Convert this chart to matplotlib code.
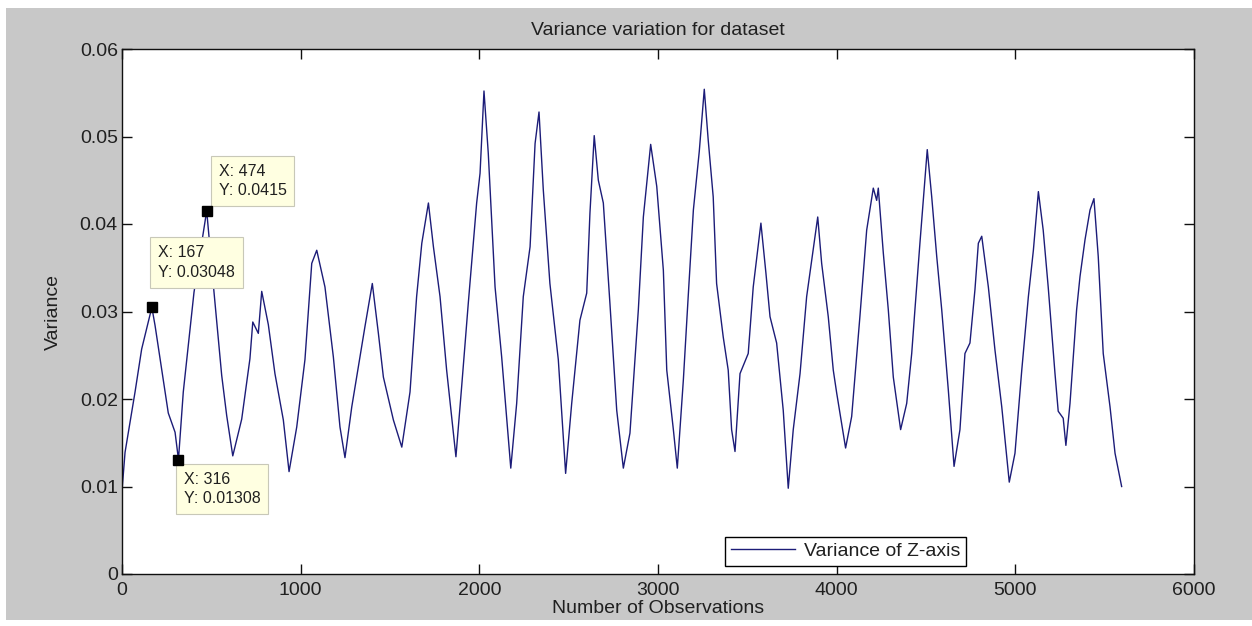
import matplotlib
matplotlib.use("Agg")
import matplotlib.pyplot as plt
from matplotlib.patches import Rectangle

# ---------------- data ----------------
observations = [
    0, 17, 73, 110, 167, 185, 259, 297, 316,
    343, 403, 474, 515, 558, 586, 620,
    670, 716, 732, 763, 782, 819, 856, 903, 935,
    978, 1024, 1062, 1090, 1136, 1183, 1220, 1248,
    1286, 1323, 1360, 1401, 1435, 1463, 1519, 1566,
    1612, 1649, 1678, 1715, 1743, 1780, 1817, 1869,
    1901, 1938, 1985, 2004, 2026, 2050, 2088, 2125, 2176,
    2209, 2246, 2284, 2312, 2334, 2358, 2395, 2442, 2483,
    2517, 2563, 2601, 2619, 2643, 2666, 2694, 2731, 2769, 2806,
    2843, 2890, 2918, 2959, 2993, 3030, 3049, 3086, 3108,
    3142, 3169, 3198, 3231, 3259, 3281, 3309, 3328, 3365, 3393, 3412, 3431,
    3459, 3505, 3533, 3576, 3604, 3627, 3664, 3701, 3729,
    3757, 3795, 3832, 3894, 3916, 3953, 3981, 4000, 4050,
    4084, 4130, 4168, 4205, 4224, 4233, 4261, 4289, 4317, 4358,
    4392, 4420, 4438, 4466, 4507, 4532, 4560, 4588, 4625, 4657,
    4690, 4718, 4746, 4774, 4793, 4812, 4849, 4886, 4924, 4966,
    4998, 5036, 5073, 5101, 5129, 5156, 5184, 5222, 5240, 5268, 5283,
    5306, 5343, 5362, 5390, 5418, 5440, 5464, 5492, 5530, 5558, 5595,
]
variance_z = [
    0.0095, 0.0139, 0.0208, 0.0257, 0.03048, 0.0284, 0.0184, 0.0162, 0.01308,
    0.0208, 0.0322, 0.0415, 0.0322, 0.0227, 0.0181, 0.0135,
    0.0177, 0.0246, 0.0288, 0.0275, 0.0323, 0.0285, 0.0229, 0.0176, 0.0117,
    0.0168, 0.0245, 0.0355, 0.0370, 0.0328, 0.0248, 0.0168, 0.0133,
    0.0191, 0.0237, 0.0283, 0.0332, 0.0275, 0.0225, 0.0176, 0.0145,
    0.0208, 0.0317, 0.0378, 0.0424, 0.0374, 0.0317, 0.0233, 0.0134,
    0.0214, 0.0309, 0.0424, 0.0458, 0.0552, 0.0481, 0.0328, 0.0248, 0.0121,
    0.0195, 0.0317, 0.0374, 0.0492, 0.0528, 0.0439, 0.0332, 0.0245, 0.0115,
    0.0195, 0.0290, 0.0321, 0.0412, 0.0501, 0.0450, 0.0424, 0.0309, 0.0187, 0.0121,
    0.0161, 0.0302, 0.0408, 0.0491, 0.0443, 0.0347, 0.0233, 0.0165, 0.0121,
    0.0222, 0.0317, 0.0416, 0.0483, 0.0554, 0.0496, 0.0431, 0.0332, 0.0271, 0.0233, 0.0165, 0.0140,
    0.0229, 0.0252, 0.0328, 0.0401, 0.0344, 0.0294, 0.0264, 0.0187, 0.0098,
    0.0165, 0.0229, 0.0317, 0.0408, 0.0355, 0.0294, 0.0233, 0.0207, 0.0144,
    0.0180, 0.0294, 0.0393, 0.0441, 0.0427, 0.0441, 0.0367, 0.0302, 0.0225, 0.0165,
    0.0195, 0.0252, 0.0302, 0.0378, 0.0485, 0.0431, 0.0363, 0.0302, 0.0210, 0.0123,
    0.0165, 0.0252, 0.0264, 0.0325, 0.0378, 0.0386, 0.0328, 0.0256, 0.0191, 0.0105,
    0.0138, 0.0233, 0.0317, 0.0370, 0.0437, 0.0393, 0.0328, 0.0229, 0.0186, 0.0178, 0.0147,
    0.0195, 0.0302, 0.0340, 0.0382, 0.0416, 0.0429, 0.0363, 0.0252, 0.0191, 0.0138, 0.0100,
]

# data tips
tip_x = [167, 316, 474]
tip_y = [0.03048, 0.01308, 0.0415]
tip_labels = ["X: 167\nY: 0.03048", "X: 316\nY: 0.01308", "X: 474\nY: 0.0415"]

x_ticks = [0, 1000, 2000, 3000, 4000, 5000, 6000]
x_tick_labels = ["0", "1000", "2000", "3000", "4000", "5000", "6000"]
y_ticks = [0, 0.01, 0.02, 0.03, 0.04, 0.05, 0.06]
y_tick_labels = ["0", "0.01", "0.02", "0.03", "0.04", "0.05", "0.06"]

title = "Variance variation for dataset"
x_label = "Number of Observations"
y_label = "Variance"
series_label = "Variance of Z-axis"

# ---------------- figure ----------------
plt.rcParams["font.family"] = ["Liberation Sans", "DejaVu Sans"]
W, H = 1252, 626
fig = plt.figure(figsize=(W / 100, H / 100), dpi=100)
fig.patch.set_facecolor("white")
fig.patches.append(Rectangle((6 / W, 6 / H), 1.0, 612 / H, transform=fig.transFigure,
                             facecolor="#c8c8c8", edgecolor="none", zorder=-10))

ax = fig.add_axes([122 / W, 52 / H, 1072 / W, 525 / H])
ax.set_facecolor("white")

txt_color = "#202020"
fs = 14

ax.plot(observations, variance_z, color="#1c1c78", lw=1.0, label=series_label, zorder=2)

ax.set_xlim(0, 6000)
ax.set_ylim(0, 0.06)
ax.set_xticks(x_ticks)
ax.set_xticklabels(x_tick_labels)
ax.set_yticks(y_ticks)
ax.set_yticklabels(y_tick_labels)
ax.tick_params(direction="in", length=7.2, width=1.0, top=True, right=True,
               labelsize=fs, labelcolor=txt_color, color="#101010")
ax.tick_params(axis="x", pad=6)
ax.tick_params(axis="y", pad=3)
for s in ax.spines.values():
    s.set_linewidth(1.0)
    s.set_color("#101010")

ax.set_title(title, fontsize=fs, color=txt_color, pad=10)
ax.set_xlabel(x_label, fontsize=fs, color=txt_color)
ax.set_ylabel(y_label, fontsize=fs, color=txt_color)
ax.xaxis.set_label_coords(0.5, -0.05)
ax.yaxis.set_label_coords(-0.056, 0.5)

# data tips
offsets = [(4.3, 20.0, "left", "bottom"), (3.8, -9.0, "left", "top"), (8.6, 9.4, "left", "bottom")]
for xv, yv, lab, (dx, dy, ha, va) in zip(tip_x, tip_y, tip_labels, offsets):
    ax.plot([xv], [yv], marker="s", color="black", markersize=7, zorder=6, clip_on=False)
    ax.annotate(lab, xy=(xv, yv), xytext=(dx, dy), textcoords="offset points",
                ha=ha, va=va, fontsize=11.5, color=txt_color, linespacing=1.35,
                bbox=dict(boxstyle="square,pad=0.5", facecolor="#ffffe1",
                          edgecolor="#c8c8b8", linewidth=0.8),
                zorder=5)

leg = ax.legend(loc="lower left", bbox_to_anchor=(0.5625, 0.0152), borderaxespad=0,
                fontsize=fs, handlelength=3.3, handletextpad=0.45, borderpad=0.3,
                fancybox=False, framealpha=1, edgecolor="black")
leg.get_frame().set_linewidth(1.0)
for t in leg.get_texts():
    t.set_color(txt_color)

fig.savefig("out.png", dpi=100)
